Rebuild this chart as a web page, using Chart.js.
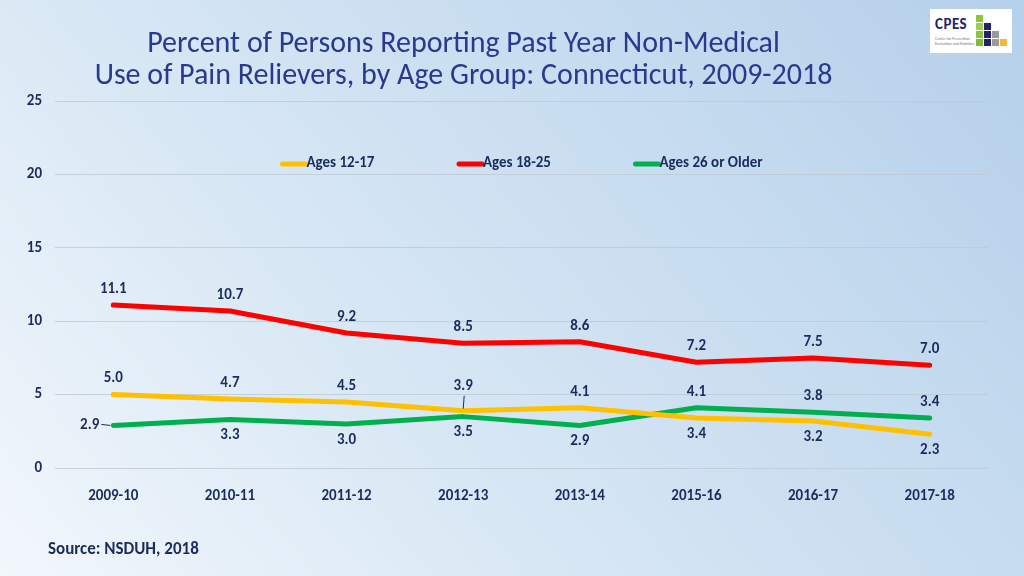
<!DOCTYPE html>
<html>
<head>
<meta charset="utf-8">
<script src="https://cdn.jsdelivr.net/npm/chart.js@4"></script>
<style>
    html, body { margin: 0; padding: 0; }
    body {
        width: 1024px;
        height: 576px;
        overflow: hidden;
        position: relative;
        background: linear-gradient(50deg, #f2f7fc 0%, #d6e6f4 40%, #b5d0ea 100%);
        font-family: Carlito, Lato, "Open Sans", sans-serif;
    }
    #chart { position: absolute; left: 0; top: 0; }
    #title {
        position: absolute;
        left: 0;
        top: 26px;
        width: 927px;
        text-align: center;
        color: #2a3990;
        font-size: 30px;
        line-height: 32px;
    }
    #source {
        position: absolute;
        left: 48px;
        top: 538px;
        color: #1c2b5e;
        font-size: 17px;
        font-weight: bold;
    }
    #logo {
        position: absolute;
        left: 930px;
        top: 9px;
        width: 82px;
        height: 44px;
        background: #fff;
    }
    #logo .name {
        position: absolute;
        left: 5px;
        top: 6px;
        font-size: 15px;
        font-weight: bold;
        color: #23236b;
        letter-spacing: 0.5px;
    }
    #logo .sub {
        position: absolute;
        left: 5px;
        top: 27px;
        font-size: 4px;
        line-height: 5px;
        color: #777;
    }
    #logo .blocks {
        position: absolute;
        left: 46px;
        top: 6px;
        display: grid;
        grid-template-columns: repeat(4, 7px);
        grid-template-rows: repeat(4, 7px);
        gap: 1px;
    }
    #logo .blocks span { display: block; }
</style>
</head>
<body>
<canvas id="chart" width="1024" height="576"></canvas>
<div id="title">Percent of Persons Reporting Past Year Non-Medical<br>Use of Pain Relievers, by Age Group: Connecticut, 2009-2018</div>
<div id="source">Source: NSDUH, 2018</div>
<div id="logo">
    <div class="name">CPES</div>
    <div class="sub">Center for Prevention<br>Evaluation and Statistics</div>
    <div class="blocks" id="blocks"></div>
</div>
<script>
const categories = ['2009-10', '2010-11', '2011-12', '2012-13', '2013-14', '2015-16', '2016-17', '2017-18'];

const ages12to17 = [5.0, 4.7, 4.5, 3.9, 4.1, 3.4, 3.2, 2.3];
const ages18to25 = [11.1, 10.7, 9.2, 8.5, 8.6, 7.2, 7.5, 7.0];
const ages26plus = [2.9, 3.3, 3.0, 3.5, 2.9, 4.1, 3.8, 3.4];

const yTicks = [0, 5, 10, 15, 20, 25];

const navy = '#1c2b5e';
const fontFamily = 'Carlito, Lato, "Open Sans", sans-serif';
const labelFont = 'bold 15px ' + fontFamily;

// logo squares
const blockColors = [
    ['#8cc63e', '', '', ''],
    ['#9ccf52', '#23236b', '', ''],
    ['#8cc63e', '#23236b', '#9a9a9a', ''],
    ['#7dbb3a', '#23236b', '#9a9a9a', '#f6b83c']
];
const blocks = document.getElementById('blocks');
blockColors.forEach(row => row.forEach(c => {
    const s = document.createElement('span');
    s.style.background = c || 'transparent';
    blocks.appendChild(s);
}));


const dataLabels = {
    id: 'dataLabels',
    afterDatasetsDraw(chart) {
        const { ctx } = chart;
        ctx.save();
        ctx.font = labelFont;
        ctx.fillStyle = navy;
        ctx.strokeStyle = navy;
        ctx.lineWidth = 1;
        ctx.textBaseline = 'middle';

        chart.data.datasets.forEach((dataset, i) => {
            const meta = chart.getDatasetMeta(i);
            meta.data.forEach((pt, j) => {
                const text = dataset.data[j].toFixed(1);
                const place = dataset.labelPlacement[j];
                let x = pt.x, y = pt.y;
                ctx.textAlign = 'center';

                if (place === 'above') {
                    y -= 16;
                } else if (place === 'below') {
                    y += 16;
                } else if (place === 'above-far') {
                    y -= 24;
                    ctx.beginPath();
                    ctx.moveTo(pt.x + 1, y + 9);
                    ctx.lineTo(pt.x, pt.y - 2);
                    ctx.stroke();
                } else if (place === 'left') {
                    ctx.textAlign = 'right';
                    x -= 14;
                    ctx.beginPath();
                    ctx.moveTo(pt.x - 12, pt.y - 1);
                    ctx.lineTo(pt.x - 3, pt.y);
                    ctx.stroke();
                }
                ctx.fillText(text, x, y);
            });
        });
        ctx.restore();
    }
};


const insideLegend = {
    id: 'insideLegend',
    afterDraw(chart) {
        const { ctx, chartArea } = chart;
        const center = (chartArea.left + chartArea.right) / 2;
        const y = chartArea.top + 62;

        ctx.save();
        ctx.font = labelFont;
        ctx.textBaseline = 'middle';
        ctx.textAlign = 'left';

        chart.data.datasets.forEach((dataset, i) => {
            const x0 = center - 241 + i * 176.5;
            ctx.strokeStyle = dataset.borderColor;
            ctx.lineWidth = 5;
            ctx.lineCap = 'round';
            ctx.beginPath();
            ctx.moveTo(x0 + 2, y + 1);
            ctx.lineTo(x0 + 25, y + 1);
            ctx.stroke();
            ctx.fillStyle = navy;
            ctx.fillText(dataset.label, x0 + 26, y);
        });
        ctx.restore();
    }
};


new Chart(document.getElementById('chart'), {
    type: 'line',
    data: {
        labels: categories,
        datasets: [
            {
                label: 'Ages 12-17',
                data: ages12to17,
                borderColor: '#ffc000',
                labelPlacement: ['above', 'above', 'above', 'above-far', 'above', 'below', 'below', 'below']
            },
            {
                label: 'Ages 18-25',
                data: ages18to25,
                borderColor: '#ff0000',
                labelPlacement: ['above', 'above', 'above', 'above', 'above', 'above', 'above', 'above']
            },
            {
                label: 'Ages 26 or Older',
                data: ages26plus,
                borderColor: '#00b050',
                labelPlacement: ['left', 'below', 'below', 'below', 'below', 'above', 'above', 'above']
            }
        ].map(ds => ({
            ...ds,
            borderWidth: 5,
            pointRadius: 0,
            tension: 0,
            borderCapStyle: 'round',
            borderJoinStyle: 'round',
            fill: false
        }))
    },
    options: {
        responsive: false,
        animation: false,
        devicePixelRatio: 1,
        layout: {
            padding: { top: 101, left: 10, right: 36, bottom: 0 }
        },
        plugins: {
            legend: { display: false },
            tooltip: { enabled: false }
        },
        scales: {
            x: {
                offset: true,
                grid: { display: false },
                border: { display: false },
                ticks: {
                    color: navy,
                    padding: 11,
                    font: { family: fontFamily, size: 15, weight: 'bold' }
                },
                afterFit(scale) { scale.height = 108; }
            },
            y: {
                min: 0,
                max: 25,
                afterBuildTicks(scale) {
                    scale.ticks = yTicks.map(v => ({ value: v }));
                },
                grid: { color: 'rgba(190, 200, 210, 0.8)', drawTicks: false },
                border: { display: false },
                ticks: {
                    color: navy,
                    padding: 13,
                    font: { family: fontFamily, size: 15, weight: 'bold' }
                },
                afterFit(scale) { scale.width = 45; }
            }
        }
    },
    plugins: [dataLabels, insideLegend]
});
</script>
</body>
</html>
